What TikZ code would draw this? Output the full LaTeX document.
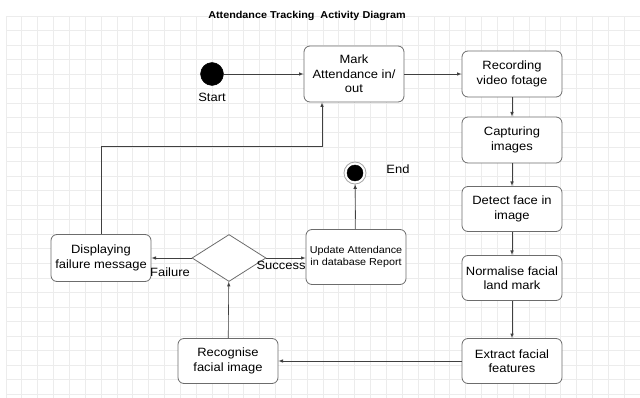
\documentclass[tikz,border=0pt]{standalone}
\usepackage{fontspec}
\setmainfont{Liberation Sans}[FakeStretch=1.08]
\usetikzlibrary{shapes.geometric,arrows.meta,calc,positioning}
\tikzset{
  act/.style={draw=gray!85!black, thick, rounded corners=6pt, fill=white,
    minimum width=100pt, minimum height=45pt, align=center,
    inner sep=1pt, font=\fontsize{12}{14.5}\selectfont},
  flow/.style={-latex, draw=black!75, semithick},
  lbl/.style={font=\fontsize{12}{14}\selectfont},
}
\begin{document}
\begin{tikzpicture}[x=1pt,y=-1pt]
        \useasboundingbox (0,0) rectangle (640,398);
        % grid
        \foreach \i in {0,...,40}
          \draw[gray!15, line width=0.8pt] (6+\i*15.85,16) -- (6+\i*15.85,398);
        \foreach \j in {0,...,26}
          \draw[gray!15, line width=0.8pt] (6,16+\j*14.55) -- (640,16+\j*14.55);
        \node (title) at (307,16) {\fontsize{10}{12}\selectfont\bfseries Attendance Tracking\ \ Activity Diagram};
        % start and end
        \filldraw[black] (212,74) circle (11.5) coordinate (start);
        \node[lbl] (startlbl) at (212,97) {Start};
        \draw[gray!70, thick, fill=white] (355,173) circle (11);
        \filldraw[black] (355,173) circle (8);
        \node[inner sep=0pt, minimum size=22pt, circle] (end) at (355,173) {};
        \node[lbl] (endlbl) at (398,169) {End};
        % activities
        \node[act, minimum height=56pt] (mark) at (354,74) {Mark\\Attendance in/\\out};
        \node[act, minimum height=46pt] (rec) at (512,74) {Recording\\video fotage};
        \node[act, minimum height=46pt] (cap) at (512,140) {Capturing\\images};
        \node[act] (det) at (512,209) {Detect face in\\image};
        \node[act] (norm) at (512,278) {Normalise facial\\land mark};
        \node[act] (ext) at (512,361) {Extract facial\\features};
        \node[act] (recog) at (228,361) {Recognise\\facial image};
        \node[act, minimum height=47pt] (disp) at (101,258) {Displaying\\failure message};
        \node[act, minimum height=55pt, font=\fontsize{10}{12}\selectfont] (upd) at (356,257) {Update Attendance\\in database Report};
        \node[draw=gray!85!black, thick, diamond, fill=white, minimum width=74pt, minimum height=47pt, inner sep=0pt, aspect=1.6] (dec) at (229,258) {};
        % flows
        \draw[flow] (start) ++(11.5,0) -- (mark.west |- start);
        \draw[flow] (mark.east |- rec) -- (rec.west);
        \draw[flow] (rec) -- (cap);
        \draw[flow] (cap) -- (det);
        \draw[flow] (det) -- (norm);
        \draw[flow] (norm) -- (ext);
        \draw[flow] (ext) -- (recog);
        \draw[flow] (recog) -- (dec);
        \draw[flow] (dec.west) -- (disp.east);
        \draw[flow] (dec.east) -- (upd.west |- dec.east);
        \draw[flow] (upd) -- (end);
        \coordinate (bend) at (322,146);
        \draw[flow] (disp.north) |- (bend) -- (bend |- mark.south);
        \node[lbl] (fail) at (170,272) {Failure};
        \node[lbl] (succ) at (281,265) {Success};
      \end{tikzpicture}
\end{document}
